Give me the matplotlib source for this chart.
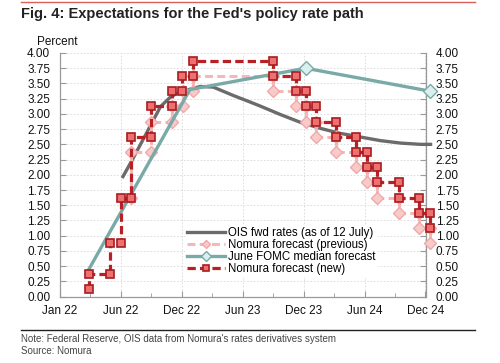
import matplotlib
matplotlib.use("Agg")
import matplotlib.pyplot as plt
from matplotlib.lines import Line2D

plt.rcParams['font.family'] = ['Liberation Sans', 'DejaVu Sans']

# x = months from start of axis (Jan 22 = 0, Dec 24 = 36)
tick_pos = [0, 6, 12, 18, 24, 30, 36]
tick_lab = ['Jan 22', 'Jun 22', 'Dec 22', 'Jun 23', 'Dec 23', 'Jun 24', 'Dec 24']

ois_x = [6.2, 7.1, 8.6, 9.9, 10.9, 11.8, 13.8, 15.1, 17.1, 18.8, 19.7, 21.7, 23.7, 25.7, 27.6, 29.6, 31.6, 33.6, 35.5, 36.5]
ois_y = [1.97, 2.24, 2.71, 3.12, 3.28, 3.36, 3.45, 3.44, 3.30, 3.19, 3.13, 2.99, 2.86, 2.76, 2.68, 2.62, 2.56, 2.52, 2.50, 2.50]

fomc_x = [2.6, 12.8, 24.2, 36.4]
fomc_y = [0.375, 3.4, 3.75, 3.375]

prev_x = [7.0, 7.0, 9.0, 9.0, 11.0, 11.0, 12.1, 12.1, 13.1, 13.1, 21.0, 21.0, 23.2, 23.2, 24.2, 24.2,
          25.2, 25.2, 27.2, 27.2, 29.2, 29.2, 30.2, 30.2, 31.2, 31.2, 33.4, 33.4, 35.4, 35.4, 36.4, 36.4]
prev_y = [1.625, 2.375, 2.375, 2.875, 2.875, 3.125, 3.125, 3.375, 3.375, 3.625, 3.625, 3.375, 3.375, 3.125, 3.125, 2.875,
          2.875, 2.625, 2.625, 2.375, 2.375, 2.125, 2.125, 1.875, 1.875, 1.625, 1.625, 1.375, 1.375, 1.125, 1.125, 0.875]

new_x = [2.9, 2.9, 4.9, 4.9, 6.0, 6.0, 7.0, 7.0, 9.0, 9.0, 11.0, 11.0, 12.0, 12.0, 13.1, 13.1, 21.0, 21.0, 23.2, 23.2,
         24.2, 24.2, 25.2, 25.2, 27.2, 27.2, 29.2, 29.2, 30.2, 30.2, 31.2, 31.2, 33.4, 33.4, 35.4, 35.4, 36.4, 36.4]
new_y = [0.125, 0.375, 0.375, 0.875, 0.875, 1.625, 1.625, 2.625, 2.625, 3.125, 3.125, 3.375, 3.375, 3.625, 3.625, 3.875,
         3.875, 3.625, 3.625, 3.375, 3.375, 3.125, 3.125, 2.875, 2.875, 2.625, 2.625, 2.375, 2.375, 2.125, 2.125, 1.875,
         1.875, 1.625, 1.625, 1.375, 1.375, 1.125]

fig = plt.figure(figsize=(5.0, 3.63), dpi=100)
ax = fig.add_axes([0.12, 0.183, 0.732, 0.671])

ax.plot(ois_x, ois_y, color='#6b6b6b', lw=2.4, label='OIS fwd rates (as of 12 July)', zorder=3, clip_on=False)
ax.plot(prev_x, prev_y, color='#f4b8b8', lw=2.2, dashes=(2.6, 1.4), marker='D', ms=6.5,
        mfc='#f8caca', mec='#f0a8a8', mew=1, label='Nomura forecast (previous)', zorder=4, clip_on=False)
ax.plot(fomc_x, fomc_y, color='#79aaa8', lw=2.4, marker='D', ms=7, markevery=[2, 3],
        mfc='#dcefef', mec='#79aaa8', mew=1, label='June FOMC median forecast', zorder=5, clip_on=False)
ax.plot(new_x, new_y, color='#b82025', lw=2.3, dashes=(2.6, 1.3), marker='s', ms=6.2,
        mfc='#ef7070', mec='#a81c20', mew=1.2, label='Nomura forecast (new)', zorder=6, clip_on=False)

ax.set_xlim(0, 36.05)
ax.set_ylim(0, 4.0)
ax.set_xticks(tick_pos)
ax.set_xticklabels(tick_lab)
ax.set_xticks([3, 9, 15, 21, 27, 33], minor=True)
ax.set_yticks([i * 0.25 for i in range(17)])
ax.set_yticklabels(['%.2f' % (i * 0.25) for i in range(17)])

ax.tick_params(axis='both', labelsize=8.5, colors='#999999', labelcolor='#111111')
ax.tick_params(axis='x', direction='in', length=4, pad=6)
ax.tick_params(axis='x', which='minor', direction='in', length=3, color='#999999')
ax.tick_params(axis='y', direction='in', length=4, pad=7, right=True, labelright=True)

for s in ['left', 'right', 'bottom']:
    ax.spines[s].set_color('#999999')
    ax.spines[s].set_linewidth(0.9)
ax.spines['top'].set_visible(False)

ax.grid(True, which='major', color='#d8d8d8', lw=0.6, ls=(0, (2, 2)))
ax.set_axisbelow(True)

leg = ax.legend(loc='lower left', bbox_to_anchor=(0.325, 0.055), fontsize=8.3, frameon=True,
                handlelength=3.3, handletextpad=0.25, labelspacing=0.0, borderpad=0.2, markerscale=0.7)
leg.get_frame().set_facecolor('white')
leg.get_frame().set_edgecolor('none')
leg.get_frame().set_alpha(1)

fig.text(0.074, 0.884, 'Percent', fontsize=8.5, color='#111111', va='center')
fig.text(0.042, 0.962, "Fig. 4: Expectations for the Fed's policy rate path", fontsize=10.5,
         fontweight='bold', color='#222222', va='center')
fig.add_artist(Line2D([0.042, 0.95], [0.994, 0.994], color='#d9605a', lw=1.0))
fig.add_artist(Line2D([0.042, 0.95], [0.091, 0.091], color='#222222', lw=1.0))
fig.text(0.042, 0.066, "Note: Federal Reserve, OIS data from Nomura's rates derivatives system", fontsize=7,
         color='#444444', va='center')
fig.text(0.042, 0.033, 'Source: Nomura', fontsize=7, color='#444444', va='center')

fig.savefig('out.png', dpi=100)
